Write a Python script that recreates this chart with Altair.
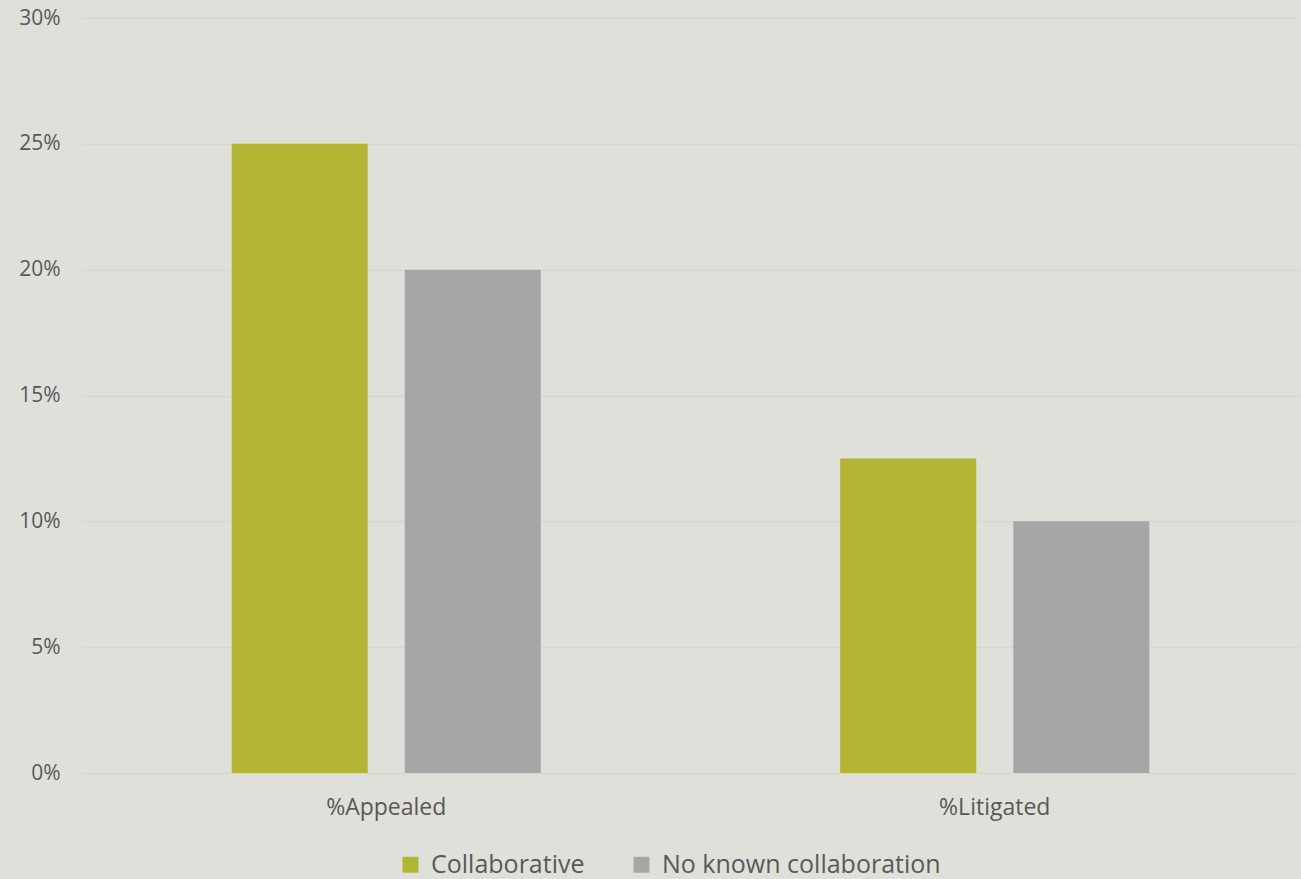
import altair as alt
import pandas as pd

categories = ["%Appealed", "%Appealed", "%Litigated", "%Litigated"]
series = ["Collaborative", "No known collaboration", "Collaborative", "No known collaboration"]
values = [0.25, 0.20, 0.125, 0.10]

df = pd.DataFrame({"category": categories, "series": series, "value": values})

FONT = "Open Sans"
TXT = "#595959"

chart = alt.Chart(df).mark_bar().encode(
    x=alt.X("category:N", title=None, sort=["%Appealed", "%Litigated"],
            scale=alt.Scale(paddingInner=0.492, paddingOuter=0.246),
            axis=alt.Axis(labelAngle=0, ticks=False, domain=False, labelPadding=23,
                          labelFontSize=23, labelColor=TXT, labelFont=FONT)),
    xOffset=alt.XOffset("series:N", sort=["Collaborative", "No known collaboration"],
                        scale=alt.Scale(paddingInner=0.214, paddingOuter=0)),
    y=alt.Y("value:Q", title=None,
            scale=alt.Scale(domain=[0, 0.3], nice=False),
            axis=alt.Axis(format=".0%", values=[0, 0.05, 0.1, 0.15, 0.2, 0.25, 0.3],
                          ticks=False, domain=False, labelPadding=22,
                          labelFontSize=21, labelColor=TXT, labelFont=FONT,
                          gridColor="#D6D6D2", gridWidth=1.5)),
    color=alt.Color("series:N", title=None,
                    sort=["Collaborative", "No known collaboration"],
                    scale=alt.Scale(domain=["Collaborative", "No known collaboration"],
                                    range=["#B3B535", "#A6A6A6"]),
                    legend=alt.Legend(orient="none", legendX=316, legendY=834,
                                      direction="horizontal", symbolType="square",
                                      symbolSize=256, symbolStrokeWidth=0,
                                      labelFontSize=25, labelColor=TXT, labelFont=FONT,
                                      labelLimit=500, labelOffset=8, columnPadding=44)),
).properties(
    width=1217, height=755,
    background="#DFE0DA",
    padding={"left": 82, "top": 18, "right": 2, "bottom": 106},
    autosize=alt.AutoSizeParams(type="none"),
).configure_view(stroke=None)

chart.save("out.html", embed_options={"renderer": "svg", "actions": False})
